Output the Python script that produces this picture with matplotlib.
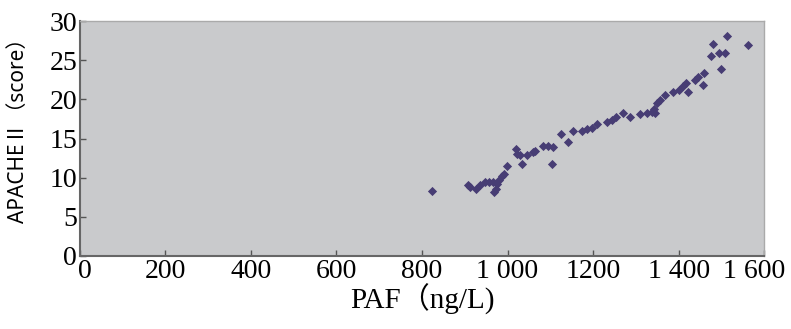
import matplotlib.pyplot as plt
from matplotlib.transforms import ScaledTranslation

# PAF (ng/L) vs APACHE II score
paf = [824, 907, 912, 926, 936, 947, 957, 967, 969, 973, 976, 981, 986, 992,
       998, 1020, 1021, 1029, 1035, 1045, 1060, 1064, 1084, 1095, 1107, 1103,
       1126, 1141, 1154, 1173, 1185, 1197, 1209, 1232, 1244, 1254, 1269, 1286,
       1310, 1325, 1337, 1343, 1345, 1349, 1357, 1368, 1388, 1400, 1411, 1417,
       1421, 1439, 1446, 1460, 1456, 1476, 1481, 1495, 1509, 1499, 1514, 1563]
apache = [8.3, 9.0, 8.8, 8.6, 9.0, 9.4, 9.5, 9.4, 8.2, 8.6, 9.2, 9.7, 10.2, 10.5,
          11.5, 13.6, 13.0, 12.9, 11.8, 12.9, 13.3, 13.4, 14.0, 14.0, 13.9, 11.8,
          15.6, 14.5, 15.9, 15.9, 16.2, 16.4, 16.8, 17.1, 17.4, 17.7, 18.2, 17.8,
          18.1, 18.2, 18.4, 18.8, 18.2, 19.5, 19.9, 20.5, 21.0, 21.2, 21.7, 22.1,
          21.0, 22.5, 22.8, 23.4, 21.8, 25.5, 27.1, 25.9, 25.9, 23.9, 28.1, 27.0]

xticks = [0, 200, 400, 600, 800, 1000, 1200, 1400, 1600]
xticklabels = ["0", "200", "400", "600", "800", "1 000", "1200", "1 400", "1 600"]
yticks = [0, 5, 10, 15, 20, 25, 30]

serif = ["Liberation Serif", "Noto Sans CJK SC", "DejaVu Sans"]
sans = ["Noto Sans", "Noto Sans CJK SC", "DejaVu Sans"]

fig = plt.figure(figsize=(7.91, 3.29), dpi=100)
ax = fig.add_axes([0.101, 0.222, 0.865, 0.714])
ax.set_facecolor("#c9cacc")

ax.scatter(paf, apache, marker="D", s=22, color="#473d74", linewidths=0, zorder=3)

ax.set_xlim(0, 1600)
ax.set_ylim(0, 30)
ax.set_xticks(xticks)
ax.set_xticklabels(xticklabels, family=serif, fontsize=20)
ax.set_yticks(yticks)
ax.set_yticklabels([str(v) for v in yticks], family=serif, fontsize=20)
ax.tick_params(direction="in", length=4, width=1, color="#555555", pad=2)

# first and last x labels sit a bit off their ticks in the original
labels = ax.get_xticklabels()
labels[0].set_transform(labels[0].get_transform() + ScaledTranslation(5/100, 0, fig.dpi_scale_trans))
labels[-1].set_transform(labels[-1].get_transform() + ScaledTranslation(-10/100, 0, fig.dpi_scale_trans))

for side in ["left", "bottom"]:
    ax.spines[side].set_color("#666666")
    ax.spines[side].set_linewidth(1.5)
for side in ["top", "right"]:
    ax.spines[side].set_color("#aaaaaa")
    ax.spines[side].set_linewidth(1)

ax.set_xlabel("PAF（ng/L)", family=serif, fontsize=21, labelpad=0)
fig.text(19/791, 1 - 125/329, "APACHEⅡ（score）", family=sans, fontsize=15,
         rotation=90, ha="center", va="center")

fig.savefig("out.png", dpi=100, facecolor="white")
